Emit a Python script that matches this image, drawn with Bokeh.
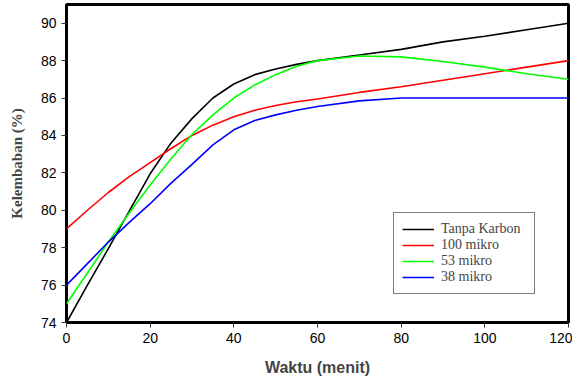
from bokeh.plotting import figure
from bokeh.models import Range1d, Legend, LegendItem, FixedTicker
from bokeh.embed import file_html
from bokeh.resources import INLINE

waktu = [0, 5, 10, 15, 20, 25, 30, 35, 40, 45, 50, 55, 60, 70, 80, 90, 100, 110, 120]
tanpa_karbon = [74.0, 76.0, 77.95, 79.95, 81.95, 83.6, 84.9, 86.0, 86.75, 87.25, 87.55, 87.8, 88.0,
                88.3, 88.6, 89.0, 89.3, 89.65, 90.0]
mikro_100 = [79.0, 80.0, 80.95, 81.8, 82.55, 83.3, 84.0, 84.55, 85.0, 85.35, 85.6, 85.8, 85.95,
             86.3, 86.6, 86.95, 87.3, 87.65, 88.0]
mikro_53 = [75.0, 76.65, 78.3, 79.85, 81.35, 82.75, 84.05, 85.1, 86.0, 86.7, 87.25, 87.7, 88.0,
            88.25, 88.2, 87.95, 87.65, 87.3, 87.0]
mikro_38 = [76.0, 77.15, 78.3, 79.35, 80.35, 81.45, 82.45, 83.5, 84.3, 84.8, 85.1, 85.35, 85.55,
            85.85, 86.0, 86.0, 86.0, 86.0, 86.0]

series = [
    ("Tanpa Karbon", tanpa_karbon, "#000000"),
    ("100 mikro", mikro_100, "#FF0000"),
    ("53 mikro", mikro_53, "#00FF00"),
    ("38 mikro", mikro_38, "#0000FF"),
]

x_ticks = [0, 20, 40, 60, 80, 100, 120]
y_ticks = [74, 76, 78, 80, 82, 84, 86, 88, 90]

p = figure(width=572, height=378, output_backend="svg", toolbar_location=None,
           x_range=Range1d(0, 120), y_range=Range1d(74, 91.0),
           min_border_left=66, min_border_right=4, min_border_top=4, min_border_bottom=52)
p.xgrid.visible = False
p.ygrid.visible = False
p.outline_line_color = "black"
p.outline_line_width = 3

items = []
for name, vals, col in series:
    r = p.line(waktu, vals, line_color=col, line_width=1.6)
    items.append(LegendItem(label=name, renderers=[r]))

for ax in (p.xaxis[0], p.yaxis[0]):
    ax.axis_line_color = None
    ax.major_tick_out = 5
    ax.major_tick_in = 0
    ax.minor_tick_line_color = None
    ax.major_tick_line_color = "#333333"
    ax.major_label_text_font = "Liberation Sans"
    ax.major_label_text_font_size = "14px"
    ax.major_label_text_color = "black"
    ax.major_label_standoff = 5

p.xaxis.ticker = FixedTicker(ticks=x_ticks)
p.yaxis.ticker = FixedTicker(ticks=y_ticks)

p.xaxis.axis_label = "Waktu (menit)"
p.xaxis.axis_label_text_font = "Liberation Sans"
p.xaxis.axis_label_text_font_style = "bold"
p.xaxis.axis_label_text_font_size = "16px"
p.xaxis.axis_label_standoff = 13

p.yaxis.axis_label = "Kelembaban (%)"
p.yaxis.axis_label_text_font = "Liberation Serif"
p.yaxis.axis_label_text_font_style = "bold"
p.yaxis.axis_label_text_font_size = "15px"
p.yaxis.axis_label_standoff = 13

legend = Legend(items=items, location=(327, 28))
legend.label_text_font = "Liberation Serif"
legend.label_text_font_size = "14px"
legend.label_standoff = 7
legend.label_width = 85
legend.glyph_width = 32
legend.glyph_height = 16
legend.label_height = 16
legend.spacing = 0
legend.padding = 8
legend.margin = 0
legend.border_line_color = "black"
legend.border_line_width = 1
legend.background_fill_alpha = 1
p.add_layout(legend, "center")

open("out.html", "w").write(file_html(p, INLINE))
